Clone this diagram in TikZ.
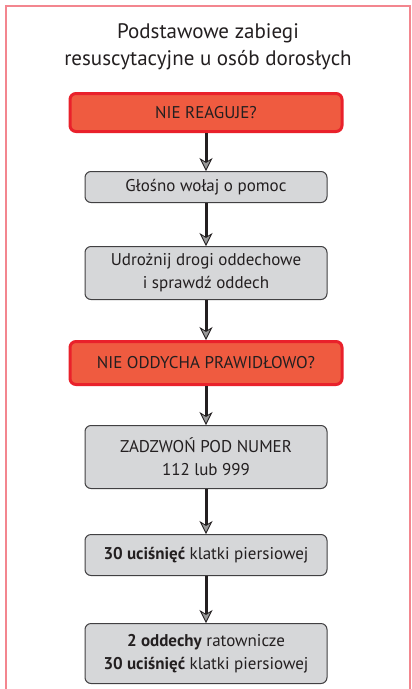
\documentclass[tikz,border=0pt]{standalone}
\usepackage{fontspec}
\setmainfont{PT Sans}
\usetikzlibrary{positioning,arrows.meta}
\definecolor{framepink}{HTML}{F3868F}
\definecolor{alertfill}{HTML}{EF5B40}
\definecolor{alertline}{HTML}{E9212B}
\definecolor{stepfill}{HTML}{D6D7D9}
\definecolor{stepline}{HTML}{414042}
\definecolor{inkdark}{HTML}{231F20}
\tikzset{
  alertbox/.style={draw=alertline, fill=alertfill, line width=3pt, rounded corners=6pt,
    minimum width=272pt, align=center, text=inkdark, font=\fontsize{17}{23}\selectfont},
  stepbox/.style={draw=stepline, fill=stepfill, line width=1pt, rounded corners=6pt,
    minimum width=242pt, align=center, text=inkdark, font=\fontsize{17}{23}\selectfont},
  flow/.style={draw=inkdark, line width=3pt,
    -{Stealth[length=13pt, width=13pt, inset=4pt, fill=gray!80, line width=0.8pt]}}
}
\begin{document}
\begin{tikzpicture}[x=1pt, y=-1pt]
\useasboundingbox (0,0) rectangle (412,689);
\draw[framepink, line width=1.5pt] (6,700) -- (6,6) -- (410,6) -- (410,700);
\node[align=center, text=inkdark, font=\fontsize{21}{27}\selectfont] (title) at (208,47)
  {Podstawowe zabiegi\\resuscytacyjne u osób dorosłych};
\node [alertbox, minimum height=38pt] (reaguje) at (206,112.5) {NIE REAGUJE?};
\node [stepbox, minimum height=31pt, below=38pt of reaguje] (pomoc) {Głośno wołaj o pomoc};
\node [stepbox, minimum height=53pt, below=43pt of pomoc] (drogi)
  {Udrożnij drogi oddechowe\\i sprawdź oddech};
\node [alertbox, minimum height=43pt, below=40pt of drogi] (oddycha) {NIE ODDYCHA PRAWIDŁOWO?};
\node [stepbox, minimum height=63pt, below=39pt of oddycha] (numer)
  {ZADZWOŃ POD NUMER\\112 lub 999};
\node [stepbox, minimum height=41pt, below=45pt of numer] (uciski)
  {\textbf{30 uciśnięć} klatki piersiowej};
\node [stepbox, minimum height=60pt, below=47pt of uciski] (cykl)
  {\textbf{2 oddechy} ratownicze\\\textbf{30 uciśnięć} klatki piersiowej};
% strzalki
\draw[flow] (reaguje) -- (pomoc);
\draw[flow] (pomoc) -- (drogi);
\draw[flow] (drogi) -- (oddycha);
\draw[flow] (oddycha) -- (numer);
\draw[flow] (numer) -- (uciski);
\draw[flow] (uciski) -- (cykl);
\end{tikzpicture}
\end{document}
